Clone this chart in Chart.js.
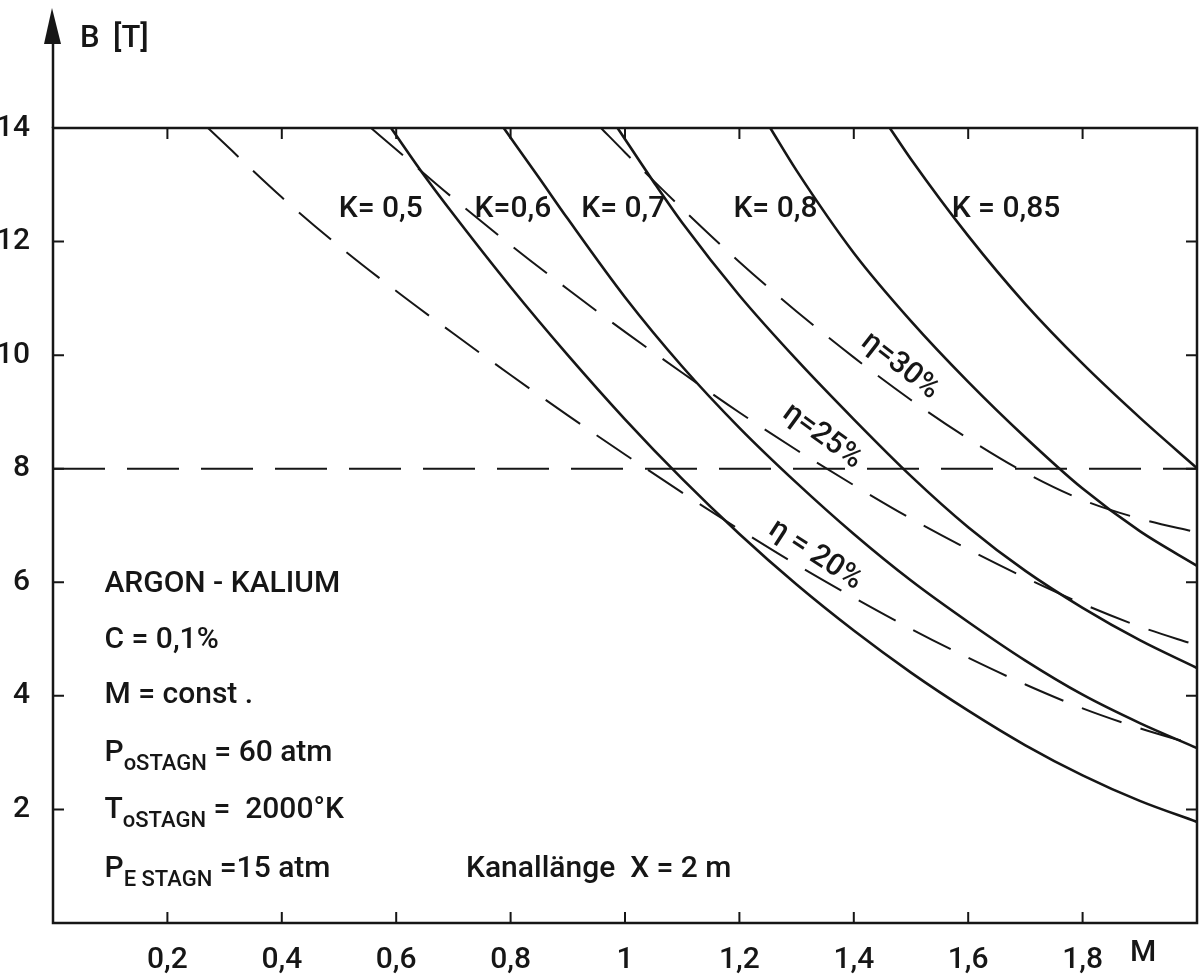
<!DOCTYPE html>
<html>
<head>
<meta charset="utf-8">
<script src="https://cdn.jsdelivr.net/npm/chart.js@4.4.1/dist/chart.umd.min.js"></script>
<style>
  html, body { margin: 0; padding: 0; background: #fff; }
</style>
</head>
<body>
<canvas id="chart" width="1200" height="974"></canvas>
<script>
// axis ticks
const xTicks = [0.2, 0.4, 0.6, 0.8, 1.0, 1.2, 1.4, 1.6, 1.8];
const yTicks = [2, 4, 6, 8, 10, 12, 14];

// solid curves, K = const (M on x, B in tesla on y)
const k05X = [0.591, 0.65, 0.7, 0.8, 0.9, 1.0, 1.1, 1.2, 1.3, 1.4, 1.5, 1.6, 1.7, 1.8, 1.9, 2.0];
const k05Y = [14.0, 13.15, 12.48, 11.2, 10.0, 8.87, 7.82, 6.85, 5.96, 5.15, 4.41, 3.74, 3.13, 2.6, 2.15, 1.78];
const k06X = [0.788, 0.85, 0.9, 1.0, 1.1, 1.2, 1.3, 1.4, 1.5, 1.6, 1.7, 1.8, 1.9, 2.0];
const k06Y = [14.0, 13.12, 12.4, 11.02, 9.8, 8.72, 7.75, 6.85, 6.03, 5.3, 4.62, 4.02, 3.52, 3.08];
const k07X = [0.987, 1.05, 1.1, 1.2, 1.3, 1.4, 1.5, 1.6, 1.7, 1.8, 1.9, 2.0];
const k07Y = [14.0, 13.05, 12.33, 11.05, 9.92, 8.87, 7.87, 6.97, 6.2, 5.55, 4.98, 4.49];
const k08X = [1.254, 1.3, 1.4, 1.5, 1.6, 1.7, 1.8, 1.9, 2.0];
const k08Y = [14.0, 13.25, 11.8, 10.6, 9.53, 8.55, 7.65, 6.9, 6.29];
const k085X = [1.463, 1.5, 1.6, 1.7, 1.8, 1.9, 2.0];
const k085Y = [14.0, 13.45, 12.1, 10.9, 9.85, 8.9, 8.01];

// dashed curves, efficiency eta = const
const eta20X = [0.271, 0.4, 0.5, 0.6, 0.7, 0.8, 0.9, 1.0, 1.1, 1.2, 1.3, 1.4, 1.5, 1.6, 1.7, 1.8, 1.9, 2.0];
const eta20Y = [14.0, 12.78, 11.92, 11.13, 10.38, 9.65, 8.94, 8.25, 7.58, 6.93, 6.31, 5.73, 5.18, 4.67, 4.2, 3.78, 3.43, 3.13];
const eta25X = [0.556, 0.6, 0.7, 0.8, 0.9, 1.0, 1.1, 1.2, 1.3, 1.4, 1.5, 1.6, 1.7, 1.8, 1.9, 2.0];
const eta25Y = [14.0, 13.62, 12.76, 11.94, 11.16, 10.41, 9.69, 8.99, 8.33, 7.71, 7.12, 6.58, 6.08, 5.62, 5.22, 4.89];
const eta30X = [0.958, 1.0, 1.1, 1.2, 1.3, 1.4, 1.5, 1.6, 1.7, 1.8, 1.9, 2.0];
const eta30Y = [14.0, 13.57, 12.58, 11.64, 10.77, 9.96, 9.21, 8.53, 7.93, 7.45, 7.12, 6.88];

// horizontal limit line
const limitX = [0, 2];
const limitY = [8, 8];

const kLabels = ["K= 0,5", "K=0,6", "K= 0,7", "K= 0,8", "K = 0,85"];
const etaLabels = ["η=30%", "η=25%", "η = 20%"];

const INK = "#161616";
const FONT = "Roboto, 'DejaVu Sans', sans-serif";
const MAIN = "500 30px " + FONT;
const SUB = "500 22px " + FONT;

function pts(xs, ys) {
  return xs.map((x, i) => ({ x: x, y: ys[i] }));
}
function fmt(v) {
  return String(Math.round(v * 10) / 10).replace(".", ",");
}

function solid(xs, ys) {
  return { data: pts(xs, ys), borderColor: INK, borderWidth: 2.6, pointRadius: 0,
    cubicInterpolationMode: "monotone", fill: false };
}
function dashed(xs, ys, dash) {
  return { data: pts(xs, ys), borderColor: INK, borderWidth: 2, pointRadius: 0,
    borderDash: dash, cubicInterpolationMode: "monotone", fill: false };
}

// draws text runs, some of them as subscripts
function rich(ctx, runs, x, y) {
  let cx = x;
  runs.forEach(r => {
    ctx.font = r.sub ? SUB : MAIN;
    ctx.fillText(r.t, cx, r.sub ? y + 9 : y);
    cx += ctx.measureText(r.t).width;
  });
}

const decor = {
  id: "decor",
  afterDraw(chart) {
    const { ctx, chartArea: a } = chart;
    const xs = chart.scales.x, ys = chart.scales.y;
    const px = v => xs.getPixelForValue(v);
    const py = v => ys.getPixelForValue(v);
    ctx.save();
    ctx.strokeStyle = INK;
    ctx.fillStyle = INK;

    // frame + y axis with arrow
    ctx.lineWidth = 2.5;
    ctx.strokeRect(a.left, a.top, a.right - a.left, a.bottom - a.top);
    ctx.beginPath();
    ctx.moveTo(a.left, a.top);
    ctx.lineTo(a.left, 30);
    ctx.stroke();
    ctx.beginPath();
    ctx.moveTo(a.left - 1, 8);
    ctx.lineTo(a.left - 9, 44);
    ctx.lineTo(a.left + 8, 44);
    ctx.closePath();
    ctx.fill();

    // inward ticks on all four sides
    ctx.lineWidth = 2;
    ctx.beginPath();
    xTicks.forEach(v => {
      ctx.moveTo(px(v), a.bottom); ctx.lineTo(px(v), a.bottom - 11);
      ctx.moveTo(px(v), a.top); ctx.lineTo(px(v), a.top + 11);
    });
    yTicks.forEach(v => {
      ctx.moveTo(a.left, py(v)); ctx.lineTo(a.left + 11, py(v));
      ctx.moveTo(a.right, py(v)); ctx.lineTo(a.right - 11, py(v));
    });
    ctx.stroke();

    // axis titles
    ctx.font = "500 31px " + FONT;
    ctx.textAlign = "left";
    ctx.textBaseline = "alphabetic";
    ctx.fillText("B", a.left + 27, 47);
    ctx.fillText("[T]", a.left + 60, 47);
    ctx.font = MAIN;
    ctx.textAlign = "center";
    ctx.textBaseline = "middle";
    ctx.fillText("M", 1143, 953);

    // K labels
    const kX = [0.573, 0.804, 0.997, 1.263, 1.666];
    kLabels.forEach((t, i) => ctx.fillText(t, px(kX[i]), py(12.57)));

    // eta labels, rotated along their curves
    const eX = [1.481, 1.345, 1.333], eY = [9.81, 8.57, 6.48], eA = [38, 36, 33];
    etaLabels.forEach((t, i) => {
      ctx.save();
      ctx.translate(px(eX[i]), py(eY[i]));
      ctx.rotate(eA[i] * Math.PI / 180);
      ctx.fillText(t, 0, 0);
      ctx.restore();
    });

    // parameter block
    ctx.textAlign = "left";
    ctx.textBaseline = "alphabetic";
    const lx = px(0.09);
    rich(ctx, [{ t: "ARGON - KALIUM" }], lx, py(5.83));
    rich(ctx, [{ t: "C = 0,1%" }], lx, py(4.84));
    rich(ctx, [{ t: "M = const ." }], lx, py(3.87));
    rich(ctx, [{ t: "P" }, { t: "oSTAGN", sub: true }, { t: " = 60 atm" }], lx, py(2.85));
    rich(ctx, [{ t: "T" }, { t: "oSTAGN", sub: true }, { t: " =  2000°K" }], lx, py(1.85));
    rich(ctx, [{ t: "P" }, { t: "E STAGN", sub: true }, { t: " =15 atm" }], lx, py(0.81));
    rich(ctx, [{ t: "Kanallänge  X = 2 m" }], px(0.722), py(0.81));
    ctx.restore();
  }
};

new Chart(document.getElementById("chart"), {
  type: "line",
  data: {
    datasets: [
      solid(k05X, k05Y),
      solid(k06X, k06Y),
      solid(k07X, k07Y),
      solid(k08X, k08Y),
      solid(k085X, k085Y),
      dashed(eta20X, eta20Y, [42, 20]),
      dashed(eta25X, eta25Y, [42, 20]),
      dashed(eta30X, eta30Y, [42, 20]),
      dashed(limitX, limitY, [52, 22])
    ]
  },
  options: {
    responsive: false,
    animation: false,
    layout: { padding: { top: 128, right: 3, left: 0, bottom: 0 } },
    plugins: { legend: { display: false }, tooltip: { enabled: false } },
    scales: {
      x: {
        type: "linear", min: 0, max: 2,
        afterBuildTicks: s => { s.ticks = xTicks.map(v => ({ value: v })); },
        afterFit: s => { s.height = 51; },
        ticks: { callback: v => fmt(v), color: INK, font: { family: FONT, size: 30, weight: "500" },
          padding: 11, maxRotation: 0, autoSkip: false },
        grid: { display: false },
        border: { display: false }
      },
      y: {
        type: "linear", min: 0, max: 14,
        afterBuildTicks: s => { s.ticks = yTicks.map(v => ({ value: v })); },
        afterFit: s => { s.width = 53; },
        ticks: { callback: v => fmt(v), color: INK, font: { family: FONT, size: 30, weight: "500" },
          padding: 15, autoSkip: false },
        grid: { display: false },
        border: { display: false }
      }
    }
  },
  plugins: [decor]
});
</script>
</body>
</html>
